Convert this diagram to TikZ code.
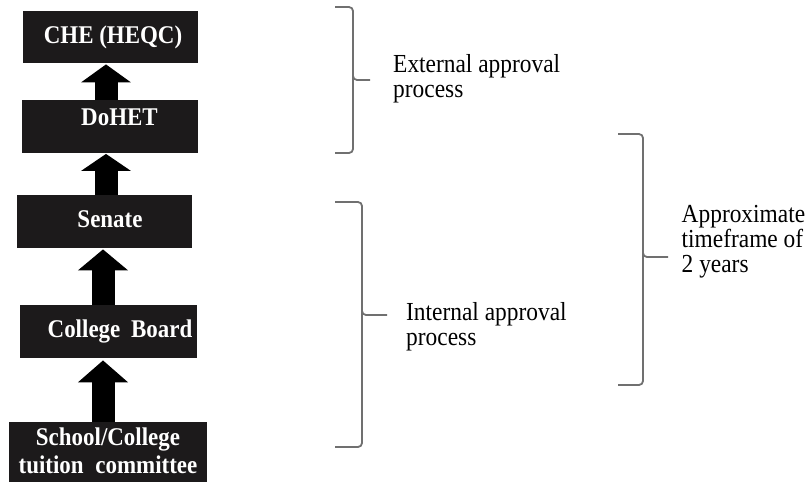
\documentclass[tikz,border=0pt]{standalone}
\usepackage{fontspec}
\setmainfont{Liberation Serif}[FakeStretch=0.9]
\usetikzlibrary{arrows.meta}
\definecolor{boxc}{HTML}{1C1A1B}
\definecolor{bracec}{HTML}{707070}
\begin{document}
\begin{tikzpicture}[x=1pt,y=-1pt,
  box/.style={fill=boxc, draw=none, inner sep=0pt, anchor=north west},
  btext/.style={text=white, font=\fontsize{25.5}{28}\selectfont\bfseries, inner sep=0pt, align=center, anchor=base},
  rtext/.style={font=\fontsize{26}{25}\selectfont, inner sep=0pt, align=left, anchor=base west},
  blk/.style={line width=23pt, -{Triangle[width=49pt,length=#1]}},
  brace/.style={draw=bracec, line width=1.8pt, rounded corners=4pt}]
\useasboundingbox (0,0) rectangle (812,482);
% boxes
\node[box, minimum width=175pt, minimum height=52pt] (che) at (23,11) {};
\node[box, minimum width=176pt, minimum height=53pt] (dohet) at (22,100) {};
\node[box, minimum width=175pt, minimum height=53pt] (senate) at (17,195) {};
\node[box, minimum width=177pt, minimum height=53pt] (cb) at (20,305) {};
\node[box, minimum width=198pt, minimum height=61pt] (school) at (9,422) {};
% labels (base anchor = baseline of the last line)
\node[btext] (t1) at (113,43) {CHE (HEQC)};
\node[btext] (t2) at (119.5,125) {DoHET};
\node[btext] (t3) at (110,227) {Senate};
\node[btext] (t4) at (120,337) {College\hspace{5pt} Board};
\node[btext] (t5) at (108,473) {School/College\\tuition\hspace{6pt} committee};
% arrows
\coordinate (ax) at (106,0);
\coordinate (bx) at (103,0);
\draw[blk=18pt, shorten >=1pt] (dohet.north -| ax) -- (che.south -| ax);
\draw[blk=17pt, shorten >=0.5pt] (senate.north -| ax) -- (dohet.south -| ax);
\draw[blk=21pt, shorten >=1pt] (cb.north -| bx) -- (senate.south -| bx);
\draw[blk=22pt, shorten >=2pt] (school.north -| bx) -- (cb.south -| bx);
% braces
\draw[brace] (335,7) -- (353,7) -- (353,80) -- (370,80);
\draw[brace] (353,76) -- (353,153) -- (335,153);
\draw[brace] (335,202) -- (362,202) -- (362,315) -- (387,315);
\draw[brace] (362,311) -- (362,447) -- (335,447);
\draw[brace] (618,134) -- (643,134) -- (643,257) -- (668,257);
\draw[brace] (643,253) -- (643,385) -- (618,385);
% texts
\node[rtext] (ext) at (393,97) {External approval\\process};
\node[rtext] (int) at (406,345) {Internal approval\\process};
\node[rtext] (tf) at (681.5,272) {Approximate\\timeframe of\\2 years};
\end{tikzpicture}
\end{document}
